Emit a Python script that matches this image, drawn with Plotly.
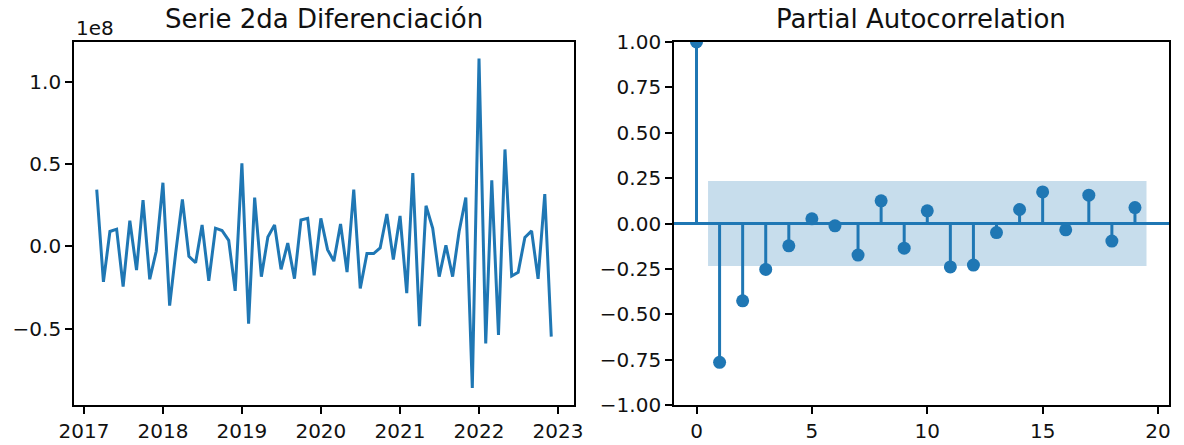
import plotly.graph_objects as go
import pandas as pd

# ---------------- data ----------------
# Second-differenced monthly series (values in units of 1e8), Mar 2017 .. Dec 2022
inicio = "2017-03-01"
valores_1e8 = [
    0.344, -0.216, 0.090, 0.104, -0.244, 0.156, -0.144, 0.280, -0.200, -0.030,   # 2017 Mar-Dec
    0.386, -0.360, -0.040, 0.284, -0.060, -0.100, 0.130, -0.210, 0.110, 0.096, 0.036, -0.270,  # 2018
    0.504, -0.470, 0.296, -0.184, 0.056, 0.130, -0.140, 0.020, -0.196, 0.160, 0.170, -0.176,  # 2019
    0.170, -0.020, -0.090, 0.136, -0.156, 0.344, -0.256, -0.044, -0.044, -0.010, 0.196, -0.080,  # 2020
    0.184, -0.284, 0.444, -0.484, 0.246, 0.110, -0.184, 0.006, -0.184, 0.090, 0.296, -0.860,  # 2021
    1.140, -0.590, 0.400, -0.538, 0.588, -0.180, -0.157, 0.054, 0.094, -0.197, 0.317, -0.548,  # 2022
]

# Partial autocorrelation
lags = list(range(20))
pacf_vals = [1.0, -0.765, -0.426, -0.253, -0.123, 0.026, -0.013, -0.174, 0.125, -0.136,
             0.070, -0.239, -0.229, -0.050, 0.077, 0.174, -0.035, 0.156, -0.097, 0.088]
conf = 0.234

left_yticks = [-0.5, 0.0, 0.5, 1.0]
left_yticktext = ["\u22120.5", "0.0", "0.5", "1.0"]
right_yticks = [-1.0, -0.75, -0.5, -0.25, 0.0, 0.25, 0.5, 0.75, 1.0]
right_yticktext = ["\u22121.00", "\u22120.75", "\u22120.50", "\u22120.25", "0.00", "0.25", "0.50", "0.75", "1.00"]
right_xticks = [0, 5, 10, 15, 20]

# ---------------- build ----------------
fechas = pd.date_range(inicio, periods=len(valores_1e8), freq="MS")

C0 = "#1f77b4"
W, H = 1184, 445
FONT = "DejaVu Sans"
TXT = "#111111"

fig = go.Figure()

fig.add_trace(go.Scatter(x=fechas, y=valores_1e8, mode="lines",
                         line=dict(color=C0, width=3), xaxis="x", yaxis="y",
                         showlegend=False, hoverinfo="x+y"))

# confidence band
bx = [lags[1] - 0.5, lags[-1] + 0.5, lags[-1] + 0.5, lags[1] - 0.5]
by = [conf, conf, -conf, -conf]
fig.add_trace(go.Scatter(x=bx, y=by, fill="toself", mode="none",
                         fillcolor="rgba(31,119,180,0.25)", xaxis="x2", yaxis="y2",
                         showlegend=False, hoverinfo="skip"))

# stems
sx, sy = [], []
for l, v in zip(lags, pacf_vals):
    sx += [l, l, None]
    sy += [0, v, None]
fig.add_trace(go.Scatter(x=sx, y=sy, mode="lines", line=dict(color=C0, width=3),
                         xaxis="x2", yaxis="y2", showlegend=False, hoverinfo="skip"))
fig.add_trace(go.Scatter(x=lags, y=pacf_vals, mode="markers",
                         marker=dict(color=C0, size=13), xaxis="x2", yaxis="y2",
                         showlegend=False))

# zero line across whole panel
fig.add_shape(type="line", xref="x2 domain", yref="y2", x0=0, x1=1, y0=0, y1=0,
              line=dict(color=C0, width=3), layer="above")

x1d = [74 / W, 574 / W]
x2d = [674 / W, 1169 / W]
yd = [1 - 405 / H, 1 - 42 / H]

axis_common = dict(showline=True, mirror=True, linecolor="black", linewidth=1.7,
                   ticks="outside", ticklen=7, tickwidth=1.7, tickcolor="black",
                   showgrid=False, zeroline=False, automargin=False,
                   tickfont=dict(family=FONT, size=20, color=TXT))

t0 = fechas[0]
t1 = fechas[-1]
span = t1 - t0
xr = [t0 - span * 0.05, t1 + span * 0.05]

fig.update_layout(
    width=W, height=H,
    margin=dict(l=0, r=0, t=0, b=0),
    paper_bgcolor="white", plot_bgcolor="white",
    font=dict(family=FONT, color=TXT),
    xaxis=dict(domain=x1d, anchor="y", type="date", range=xr,
               tick0="2017-01-01", dtick="M12", tickformat="%Y", **axis_common),
    yaxis=dict(domain=yd, anchor="x", range=[-0.963, 1.240],
               tickvals=left_yticks, ticktext=left_yticktext, **axis_common),
    xaxis2=dict(domain=x2d, anchor="y2", range=[-0.975, 20.475],
                tickvals=right_xticks, **axis_common),
    yaxis2=dict(domain=yd, anchor="x2", range=[-1, 1],
                tickvals=right_yticks, ticktext=right_yticktext, **axis_common),
    annotations=[
        dict(text="Serie 2da Diferenciación", xref="paper", yref="paper",
             x=(x1d[0] + x1d[1]) / 2, y=1 - 19 / H, xanchor="center", yanchor="middle",
             showarrow=False, font=dict(family=FONT, size=26, color=TXT)),
        dict(text="Partial Autocorrelation", xref="paper", yref="paper",
             x=(x2d[0] + x2d[1]) / 2, y=1 - 19 / H, xanchor="center", yanchor="middle",
             showarrow=False, font=dict(family=FONT, size=26, color=TXT)),
        dict(text="1e8", xref="paper", yref="paper",
             x=x1d[0], y=1 - 28 / H, xanchor="left", yanchor="middle",
             showarrow=False, font=dict(family=FONT, size=20, color=TXT)),
    ],
)

fig.write_html("out.html", config={"displayModeBar": False},
               post_script="document.body.style.margin='0';document.body.style.overflow='hidden';")
